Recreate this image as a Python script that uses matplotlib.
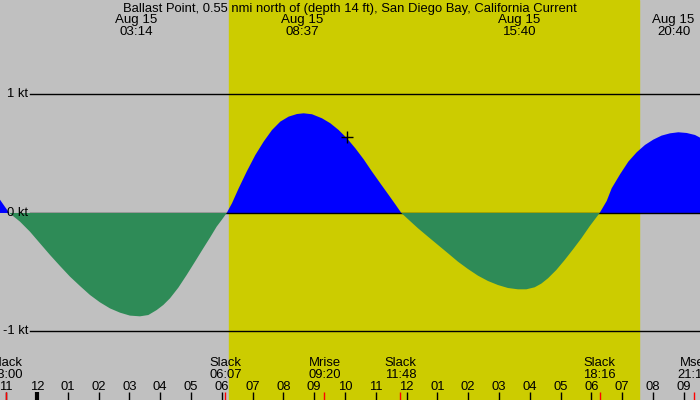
import matplotlib
matplotlib.use("Agg")
import matplotlib.pyplot as plt
import numpy as np

# current speed (kt), hours since midnight Aug 15
hours = [-1.25, -0.9, -0.552, -0.227, 0.097, 0.422, 0.747, 1.071, 1.396, 1.721, 2.045, 2.370, 2.695,
         3.019, 3.344, 3.615, 3.886, 4.102, 4.318, 4.589, 4.860, 5.130, 5.399, 5.617, 5.834, 5.996, 6.159,
         6.331, 6.548, 6.818, 7.089, 7.359, 7.630, 7.900, 8.171, 8.442, 8.658, 8.929, 9.253, 9.524, 9.794,
         10.065, 10.335, 10.606, 10.877, 11.147, 11.418, 11.634, 11.829,
         12.100, 12.370, 12.695, 13.019, 13.344, 13.669, 13.994, 14.318, 14.643, 14.968, 15.292, 15.617,
         15.888, 16.158, 16.374, 16.591, 16.861, 17.132, 17.403, 17.673, 17.944, 18.268,
         18.496, 18.658, 18.929, 19.199, 19.470, 19.740, 20.011, 20.281, 20.552, 20.823, 21.093, 21.364,
         21.526, 21.6]
speed = [0.13, 0.0, -0.073, -0.158, -0.256, -0.354, -0.447, -0.537, -0.616, -0.692, -0.754, -0.805, -0.841,
         -0.866, -0.872, -0.861, -0.819, -0.776, -0.720, -0.630, -0.523, -0.411, -0.298, -0.208, -0.115, -0.059, 0.0,
         0.082, 0.208, 0.354, 0.489, 0.602, 0.700, 0.771, 0.813, 0.835, 0.841, 0.833, 0.799, 0.757, 0.700,
         0.630, 0.546, 0.453, 0.349, 0.250, 0.152, 0.073, 0.0,
         -0.065, -0.129, -0.200, -0.270, -0.340, -0.411, -0.473, -0.529, -0.574, -0.608, -0.633, -0.644,
         -0.644, -0.627, -0.596, -0.551, -0.481, -0.397, -0.307, -0.214, -0.112, 0.0,
         0.101, 0.208, 0.326, 0.433, 0.512, 0.574, 0.619, 0.653, 0.672, 0.681, 0.675, 0.658,
         0.636, 0.625]

# max flood / ebb labels on top
peak_hours = [3.233, 8.617, 15.667, 20.667]
peak_labels = ["03:14", "08:37", "15:40", "20:40"]

# events along the bottom
event_hours = [-1.0, 6.117, 9.333, 11.8, 18.267, 21.317]
event_names = ["Slack", "Slack", "Mrise", "Slack", "Slack", "Mset"]
event_times = ["23:00", "06:07", "09:20", "11:48", "18:16", "21:19"]

sunrise = 6.233
sunset = 19.55
now_hour = 10.065
now_speed = 0.64

title = "Ballast Point, 0.55 nmi north of (depth 14 ft), San Diego Bay, California Current"

t = np.array(hours)
v = np.array(speed)

fig = plt.figure(figsize=(7, 4), dpi=100)
fig.patch.set_facecolor("#C0C0C0")
ax = fig.add_axes([0, 0, 1, 1])
ax.set_facecolor("#C0C0C0")
ax.set_xlim(-1.201, 21.526)
ax.set_ylim(-1.578, 1.797)
ax.axis("off")

ax.axvspan(sunrise, sunset, color="#CCCC00", zorder=0)

lab_font = ["Liberation Sans", "DejaVu Sans"]
fam = ["Liberation Sans Narrow", "Liberation Sans", "DejaVu Sans"]

# kt grid lines
for lvl in [1, 0, -1]:
    ax.axhline(lvl, xmin=30 / 700, xmax=1, color="black", lw=1, zorder=2)
    ax.text(28 / 700, lvl, f"{lvl} kt", transform=ax.get_yaxis_transform(),
            ha="right", va="center", fontsize=9.4, color="black", family=lab_font, zorder=6)

ax.fill_between(t, 0, v, where=v >= 0, interpolate=True, color="#0000FF", lw=0, zorder=1)
ax.fill_between(t, 0, v, where=v <= 0, interpolate=True, color="#2E8B57", lw=0, zorder=3)

ax.plot([now_hour], [now_speed], marker="+", color="black", ms=9, mew=1, zorder=4)

ax.text(0.5, 1 - 9 / 400, title, transform=ax.transAxes, ha="center", va="center",
        fontsize=9.35, family=fam)
for h, lab in zip(peak_hours, peak_labels):
    ax.text(h, 1 - 20 / 400, "Aug 15", transform=ax.get_xaxis_transform(),
            ha="center", va="center", fontsize=9.6, family=fam)
    ax.text(h, 1 - 32 / 400, lab, transform=ax.get_xaxis_transform(),
            ha="center", va="center", fontsize=9.6, family=fam)

# hour ticks along the bottom
xt = ax.get_xaxis_transform()
for h in range(-1, 22):
    lab = "%02d" % ((h % 24) % 12 if (h % 24) % 12 else 12)
    ax.text(h, 1 - 386.5 / 400, lab, transform=xt, ha="center", va="center",
            fontsize=9.4, family=lab_font)
    w = 3 if h % 24 == 0 else 1
    ax.plot([h, h], [0, 8 / 400], transform=xt, color="black", lw=w, solid_capstyle="butt", zorder=5)

for h, name, tm in zip(event_hours, event_names, event_times):
    ax.plot([h, h], [0, 8 / 400], transform=xt, color="red", lw=1, solid_capstyle="butt", zorder=5)
    ax.text(h, 1 - 363.5 / 400, name, transform=xt, ha="center", va="center",
            fontsize=9.4, family=lab_font)
    ax.text(h, 1 - 375.5 / 400, tm, transform=xt, ha="center", va="center",
            fontsize=9.4, family=lab_font)

fig.savefig("out.png", dpi=100, facecolor=fig.get_facecolor())
